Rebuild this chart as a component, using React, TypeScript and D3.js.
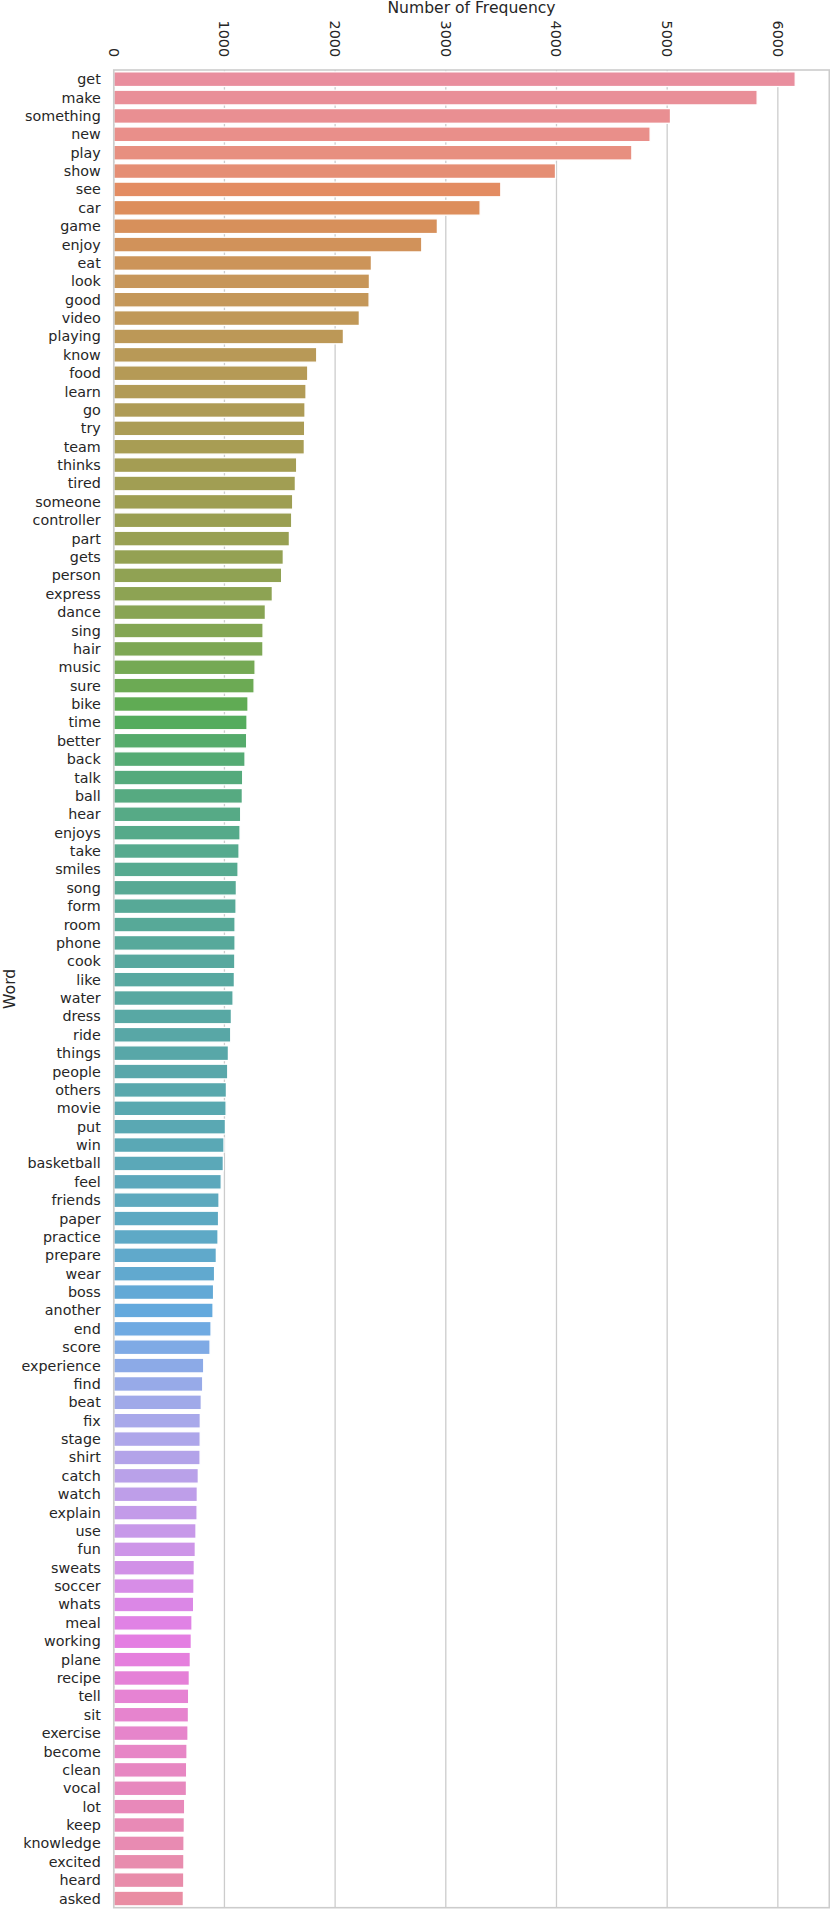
import React from 'react';
import * as d3 from 'd3';

const words: string[] = [
  'get', 'make', 'something', 'new', 'play', 'show', 'see', 'car', 'game', 'enjoy',
  'eat', 'look', 'good', 'video', 'playing', 'know', 'food', 'learn', 'go', 'try',
  'team', 'thinks', 'tired', 'someone', 'controller', 'part', 'gets', 'person', 'express', 'dance',
  'sing', 'hair', 'music', 'sure', 'bike', 'time', 'better', 'back', 'talk', 'ball',
  'hear', 'enjoys', 'take', 'smiles', 'song', 'form', 'room', 'phone', 'cook', 'like',
  'water', 'dress', 'ride', 'things', 'people', 'others', 'movie', 'put', 'win', 'basketball',
  'feel', 'friends', 'paper', 'practice', 'prepare', 'wear', 'boss', 'another', 'end', 'score',
  'experience', 'find', 'beat', 'fix', 'stage', 'shirt', 'catch', 'watch', 'explain', 'use',
  'fun', 'sweats', 'soccer', 'whats', 'meal', 'working', 'plane', 'recipe', 'tell', 'sit',
  'exercise', 'become', 'clean', 'vocal', 'lot', 'keep', 'knowledge', 'excited', 'heard', 'asked',
];

const counts: number[] = [
  6157, 5813, 5030, 4846, 4681, 3991, 3497, 3310, 2924, 2783,
  2328, 2310, 2307, 2219, 2075, 1834, 1753, 1737, 1728, 1725,
  1722, 1653, 1641, 1617, 1608, 1587, 1532, 1517, 1433, 1370,
  1349, 1348, 1277, 1268, 1213, 1204, 1201, 1186, 1165, 1162,
  1147, 1141, 1132, 1123, 1108, 1105, 1096, 1096, 1094, 1090,
  1078, 1063, 1057, 1036, 1030, 1018, 1015, 1009, 996, 990,
  971, 951, 947, 942, 927, 911, 902, 897, 879, 870,
  813, 804, 791, 782, 781, 780, 764, 755, 753, 743,
  737, 728, 725, 722, 707, 701, 692, 683, 677, 675,
  671, 662, 659, 657, 641, 638, 635, 634, 633, 629,
];

const xTicks: number[] = [0, 1000, 2000, 3000, 4000, 5000, 6000];
const xTitle = 'Number of Frequency';
const yTitle = 'Word';

// ---- HUSL (seaborn's husl palette) ----
const M = [
  [3.2406, -1.5372, -0.4986],
  [-0.9689, 1.8758, 0.0415],
  [0.0557, -0.204, 1.057],
];
const refU = 0.19784;
const refV = 0.46834;

function maxChroma(L: number, H: number): number {
  const hrad = (H / 180) * Math.PI;
  const sinH = Math.sin(hrad);
  const cosH = Math.cos(hrad);
  const sub1 = Math.pow(L + 16, 3) / 1560896.0;
  const sub2 = sub1 > 0.008856 ? sub1 : L / 903.3;
  let result = Infinity;
  for (const [m1, m2, m3] of M) {
    const top = (0.99915 * m1 + 1.05122 * m2 + 1.1446 * m3) * sub2;
    const rbottom = 0.8633 * m3 - 0.17266 * m2;
    const lbottom = 0.12949 * m3 - 0.38848 * m1;
    const bottom = (rbottom * sinH + lbottom * cosH) * sub2;
    for (const t of [0, 1]) {
      const C = (L * (top - 1.05122 * t)) / (bottom + 0.17266 * sinH * t);
      if (C > 0 && C < result) result = C;
    }
  }
  return result;
}

function fInv(t: number): number {
  return Math.pow(t, 3) > 0.008856 ? Math.pow(t, 3) : (116 * t - 16) / 903.3;
}

function fromLinear(c: number): number {
  return c <= 0.0031308 ? 12.92 * c : 1.055 * Math.pow(c, 1 / 2.4) - 0.055;
}

function huslToRgb(H: number, S: number, L: number): [number, number, number] {
  const C = (maxChroma(L, H) / 100) * S;
  const hrad = (H / 180) * Math.PI;
  const U = Math.cos(hrad) * C;
  const V = Math.sin(hrad) * C;
  const varY = fInv((L + 16) / 116);
  const varU = U / (13 * L) + refU;
  const varV = V / (13 * L) + refV;
  const Y = varY;
  const X = 0 - (9 * Y * varU) / ((varU - 4) * varV - varU * varV);
  const Z = (9 * Y - 15 * varV * Y - varV * X) / (3 * varV);
  const rgb = M.map((row) => fromLinear(row[0] * X + row[1] * Y + row[2] * Z));
  return rgb.map((v) => Math.min(1, Math.max(0, v))) as [number, number, number];
}

function huslPalette(n: number): string[] {
  const out: string[] = [];
  for (let i = 0; i < n; i++) {
    const h = (((i / n) + 0.01) % 1) * 359;
    const [r, g, b] = huslToRgb(h, 0.9 * 99, 0.65 * 99);
    const c = d3.hsl(d3.rgb(r * 255, g * 255, b * 255));
    c.s *= 0.75;
    // slight wash toward white, as in the reference rendering
    out.push(d3.interpolateRgb(c.formatHex(), '#ffffff')(0.1));
  }
  return out;
}

const W = 830;
const H = 1909;
const left = 113.75;
const right = 829.3;
const top = 70;
const bottom = 1907.7;
const textColor = '#262626';
const gridColor = '#cccccc';
const font = 'DejaVu Sans, sans-serif';

export default function App() {
  const colors = huslPalette(words.length);
  const x = d3
    .scaleLinear()
    .domain([0, (d3.max(counts) as number) * 1.05])
    .range([left, right]);
  const y = d3
    .scaleBand<string>()
    .domain(words)
    .range([top, bottom])
    .paddingInner(0.2)
    .paddingOuter(0.1);

  return (
    <svg
      width={W}
      height={H}
      viewBox={`0 0 ${W} ${H}`}
      style={{ position: 'absolute', left: 0, top: 0, display: 'block', background: '#fff' }}
    >
      <rect x={0} y={0} width={W} height={H} fill="#fff" />
      {xTicks.map((t) => (
        <line
          key={`g${t}`}
          x1={x(t)}
          x2={x(t)}
          y1={top}
          y2={bottom}
          stroke={gridColor}
          strokeWidth={1.3}
        />
      ))}
      {words.map((w, i) => (
        <rect
          key={w}
          x={x(0)}
          y={y(w)}
          width={x(counts[i]) - x(0)}
          height={y.bandwidth()}
          fill={colors[i]}
          stroke="#ffffff"
          strokeWidth={1.3}
        />
      ))}
      <rect
        x={left}
        y={top}
        width={right - left}
        height={bottom - top}
        fill="none"
        stroke={gridColor}
        strokeWidth={1.6}
      />
      {xTicks.map((t) => (
        <text
          key={`t${t}`}
          x={x(t)}
          y={57}
          transform={`rotate(90, ${x(t)}, 57)`}
          textAnchor="end"
          dy="0.35em"
          fontFamily={font}
          fontSize={14.3}
          fill={textColor}
        >
          {String(t)}
        </text>
      ))}
      {words.map((w) => (
        <text
          key={`l${w}`}
          x={left - 13}
          y={(y(w) as number) + y.bandwidth() / 2}
          dy="0.35em"
          textAnchor="end"
          fontFamily={font}
          fontSize={14.3}
          fill={textColor}
        >
          {w}
        </text>
      ))}
      <text
        x={(left + right) / 2}
        y={13.4}
        textAnchor="middle"
        fontFamily={font}
        fontSize={15.6}
        fill={textColor}
      >
        {xTitle}
      </text>
      <text
        x={15}
        y={(top + bottom) / 2}
        transform={`rotate(-90, 15, ${(top + bottom) / 2})`}
        textAnchor="middle"
        fontFamily={font}
        fontSize={15.6}
        fill={textColor}
      >
        {yTitle}
      </text>
    </svg>
  );
}
